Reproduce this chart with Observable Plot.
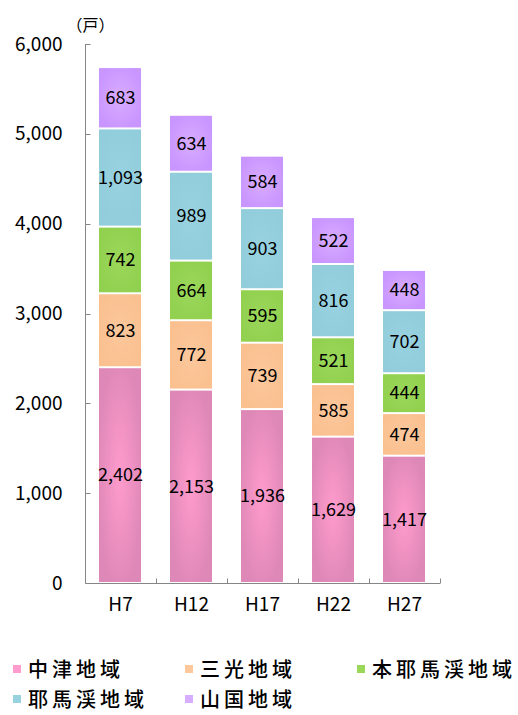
<!DOCTYPE html>
<html><head><meta charset="utf-8">
<script src="https://cdn.jsdelivr.net/npm/d3@7"></script>
<script src="https://cdn.jsdelivr.net/npm/@observablehq/plot@0.6"></script>
<style>
body{margin:0;background:#fff;font-family:"Noto Sans CJK JP",sans-serif;}
#wrap{position:relative;width:518px;height:715px;overflow:hidden;}
.leg{position:absolute;font-size:20px;letter-spacing:4px;line-height:20px;white-space:nowrap;color:#000;font-weight:500;}
.sw{position:absolute;width:8px;height:8px;}
</style></head><body><div id="wrap"></div>
<script>
const years = ["H7","H12","H17","H22","H27"];
const regions = ["中津地域","三光地域","本耶馬渓地域","耶馬渓地域","山国地域"];
const nakatsu = [2402,2153,1936,1629,1417];
const sanko = [823,772,739,585,474];
const honyabakei = [742,664,595,521,444];
const yabakei = [1093,989,903,816,702];
const yamakuni = [683,634,584,522,448];
const seriesValues = [nakatsu, sanko, honyabakei, yabakei, yamakuni];
const yTicks = [0,1000,2000,3000,4000,5000,6000];
const unitLabel = "（戸）";
const baseColors = ["#DE88B7","#FAC090","#92D050","#92CDDC","#C996FF"];
const centerColors = ["#FF9BCD","#FCC89C","#9BD85A","#98D2E0","#D8ACFF"];
const legendOrder = [0,1,2,3,4];

const data = [];
years.forEach((yr, j) => regions.forEach((r, i) => data.push({year: yr, region: r, value: seriesValues[i][j]})));

const defsMark = () => {
  const g = d3.create("svg:g");
  const defs = g.append("defs");
  regions.forEach((r, i) => {
    const rg = defs.append("radialGradient").attr("id", "grad" + i)
      .attr("cx", "50%").attr("cy", "50%").attr("r", "55%");
    rg.append("stop").attr("offset", "0%").attr("stop-color", centerColors[i]);
    rg.append("stop").attr("offset", "100%").attr("stop-color", baseColors[i]);
  });
  return g.node();
};

const axesMark = (index, scales, values, dim) => {
  const g = d3.create("svg:g").attr("stroke", "#868686").attr("fill", "none").attr("stroke-width", 1);
  const x0 = dim.marginLeft + 0.5, x1 = dim.width - dim.marginRight;
  const yb = dim.height - dim.marginBottom + 0.5, yt = dim.marginTop;
  g.append("line").attr("x1", x0).attr("x2", x0).attr("y1", yt).attr("y2", yb);
  g.append("line").attr("x1", x0).attr("x2", x1).attr("y1", yb).attr("y2", yb);
  yTicks.forEach(v => {
    const y = Math.round(scales.y(v)) + 0.5;
    g.append("line").attr("x1", x0).attr("x2", x0 + 5).attr("y1", y).attr("y2", y);
  });
  const step = (x1 - dim.marginLeft) / years.length;
  for (let i = 1; i <= years.length; i++) {
    const x = Math.round(dim.marginLeft + i * step) + 0.5;
    g.append("line").attr("x1", x).attr("x2", x).attr("y1", yb - 5).attr("y2", yb);
  }
  return g.node();
};

const chart = Plot.plot({
  width: 518,
  height: 630,
  marginTop: 44,
  marginBottom: 47,
  marginLeft: 85,
  marginRight: 78,
  style: {fontFamily: '"Noto Sans CJK JP", sans-serif', fontSize: "16px", color: "#000", background: "#fff"},
  x: {domain: years, paddingInner: 0.408, paddingOuter: 0.204, label: null},
  y: {domain: [0, 6000], label: null},
  color: {domain: regions, range: regions.map((r, i) => `url(#grad${i})`)},
  marks: [
    defsMark,
    Plot.barY(data, Plot.stackY({x: "year", y: "value", z: "region", fill: "region", insetTop: 1, insetBottom: 1})),
    Plot.text(data, Plot.stackY({x: "year", y: "value", z: "region", text: d => d3.format(",")(d.value), fontSize: 18, fill: "#000"})),
    axesMark,
    Plot.axisY(yTicks, {tickSize: 0, tickPadding: 23, fontSize: 19, tickFormat: d3.format(","), label: null}),
    Plot.axisX({tickSize: 0, tickPadding: 14, fontSize: 19, label: null}),
    Plot.text([unitLabel], {frameAnchor: "top-left", dx: 5, dy: -25, textAnchor: "middle", fontSize: 16})
  ]
});
const wrap = document.getElementById("wrap");
wrap.appendChild(chart);

const colX = [13, 185, 357];
const rowY = [659, 689];
legendOrder.forEach((i, k) => {
  const col = k % 3, row = Math.floor(k / 3);
  const sw = document.createElement("div");
  sw.className = "sw";
  sw.style.left = colX[col] + "px";
  sw.style.top = (rowY[row] + 6) + "px";
  sw.style.background = centerColors[i];
  wrap.appendChild(sw);
  const t = document.createElement("div");
  t.className = "leg";
  t.style.left = (colX[col] + 15) + "px";
  t.style.top = rowY[row] + "px";
  t.textContent = regions[i];
  wrap.appendChild(t);
});
</script></body></html>
